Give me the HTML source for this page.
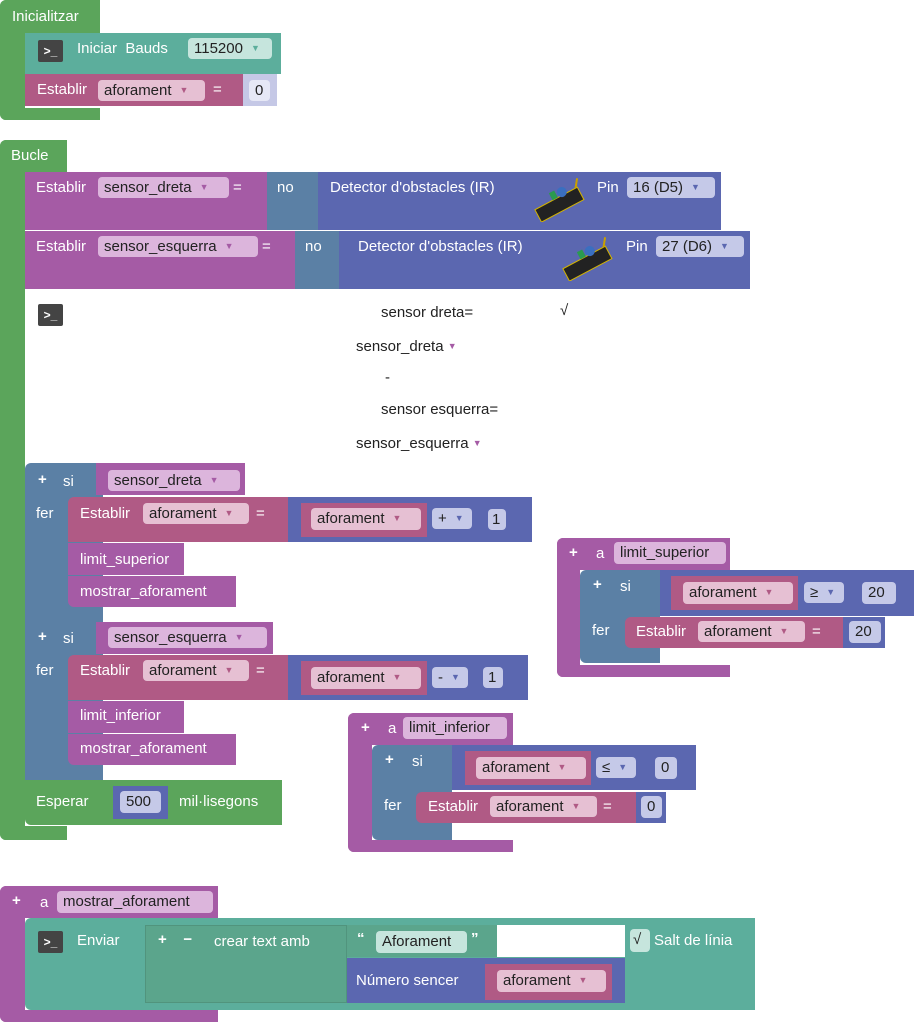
<!DOCTYPE html>
<html><head><meta charset="utf-8">
<style>
body{margin:0;width:914px;height:1024px;background:#fff;position:relative;overflow:hidden;font-family:"Liberation Sans",sans-serif;font-size:15px}
.b{position:absolute}
.t{position:absolute;color:#fff;line-height:18px;white-space:nowrap}
.k{position:absolute;color:#222;line-height:18px;white-space:nowrap}
.f{position:absolute;border-radius:4px;color:#222;line-height:21px;padding-left:6px;box-sizing:border-box;white-space:nowrap}
.f i{font-style:normal;font-size:9px;margin-left:8px;vertical-align:2px}
.G{background:#5ba55b}.T{background:#5cae9c}.P{background:#a55ba5}.R{background:#b05a85}.D{background:#5b67b0}.L{background:#5b80a5}.C{background:#5ba58c}
.fp{background:#dcb5dc}.fp i{color:#a55ba5}
.fr{background:#e6c0d3}.fr i{color:#b05a85}
.ft{background:#c6e5dd}.ft i{color:#5cae9c}
.fd{background:#c5c9e8}.fd i{color:#5b67b0}
.ico{position:absolute;width:25px;height:22px;background:#444;color:#fff;font-size:12px;line-height:22px;text-align:center;border-radius:2px;font-weight:bold}
.sh{box-shadow:inset 0 -1px 0 rgba(0,0,0,.15)}
</style></head><body>

<!-- Inicialitzar -->
<div class="b G" style="left:0;top:0;width:100px;height:38px;border-radius:6px 0 0 0"></div>
<div class="b G" style="left:0;top:0;width:25px;height:120px;border-radius:6px 0 0 6px"></div>
<div class="b G" style="left:0;top:108px;width:100px;height:12px;border-radius:0 0 0 6px"></div>
<div class="t" style="left:12px;top:8px">Inicialitzar</div>
<div class="b T" style="left:25px;top:33px;width:256px;height:41px"></div>
<div class="ico" style="left:38px;top:40px">&gt;_</div>
<div class="t" style="left:77px;top:40px">Iniciar&nbsp; Bauds</div>
<div class="f ft" style="left:188px;top:38px;width:84px;height:21px">115200<i>▼</i></div>
<div class="b R" style="left:25px;top:74px;width:218px;height:32px"></div>
<div class="t" style="left:37px;top:81px">Establir</div>
<div class="f fr" style="left:98px;top:80px;width:107px;height:21px">aforament<i>▼</i></div>
<div class="t" style="left:213px;top:81px">=</div>
<div class="b" style="left:243px;top:74px;width:34px;height:32px;background:#c5c8e6"></div>
<div class="f" style="left:249px;top:80px;width:21px;height:21px;background:#e6e8f6">0</div>

<!-- Bucle -->
<div class="b G" style="left:0;top:140px;width:67px;height:32px;border-radius:6px 0 0 0"></div>
<div class="b G" style="left:0;top:140px;width:25px;height:700px;border-radius:6px 0 0 6px"></div>
<div class="b G" style="left:0;top:826px;width:67px;height:14px;border-radius:0 0 0 6px"></div>
<div class="t" style="left:11px;top:147px">Bucle</div>

<div class="b P" style="left:25px;top:172px;width:242px;height:58px"></div>
<div class="b L" style="left:267px;top:172px;width:51px;height:58px"></div>
<div class="b D" style="left:318px;top:172px;width:403px;height:58px"></div>
<div class="t" style="left:36px;top:179px">Establir</div>
<div class="f fp" style="left:98px;top:177px;width:131px;height:21px">sensor_dreta<i>▼</i></div>
<div class="t" style="left:233px;top:179px">=</div>
<div class="t" style="left:277px;top:179px">no</div>
<div class="t" style="left:330px;top:179px">Detector d'obstacles (IR)</div>
<svg class="b" style="left:528px;top:178px" width="60" height="44"><g transform="rotate(-28 30 24)"><rect x="6" y="20" width="48" height="14" fill="#222"/><rect x="6" y="20" width="48" height="14" fill="none" stroke="#d4b400" stroke-width="1"/><circle cx="38" cy="17" r="5" fill="#3a6fc0"/><rect x="26" y="12" width="6" height="8" fill="#2a9a50"/><line x1="52" y1="20" x2="58" y2="12" stroke="#c9a000" stroke-width="2"/></g></svg>
<div class="t" style="left:597px;top:179px">Pin</div>
<div class="f fd" style="left:627px;top:177px;width:88px;height:21px">16 (D5)<i>▼</i></div>

<div class="b P" style="left:25px;top:231px;width:270px;height:58px"></div>
<div class="b L" style="left:295px;top:231px;width:44px;height:58px"></div>
<div class="b D" style="left:339px;top:231px;width:411px;height:58px"></div>
<div class="t" style="left:36px;top:238px">Establir</div>
<div class="f fp" style="left:98px;top:236px;width:160px;height:21px">sensor_esquerra<i>▼</i></div>
<div class="t" style="left:262px;top:238px">=</div>
<div class="t" style="left:305px;top:238px">no</div>
<div class="t" style="left:358px;top:238px">Detector d'obstacles (IR)</div>
<svg class="b" style="left:556px;top:237px" width="60" height="44"><g transform="rotate(-28 30 24)"><rect x="6" y="20" width="48" height="14" fill="#222"/><rect x="6" y="20" width="48" height="14" fill="none" stroke="#d4b400" stroke-width="1"/><circle cx="38" cy="17" r="5" fill="#3a6fc0"/><rect x="26" y="12" width="6" height="8" fill="#2a9a50"/><line x1="52" y1="20" x2="58" y2="12" stroke="#c9a000" stroke-width="2"/></g></svg>
<div class="t" style="left:626px;top:238px">Pin</div>
<div class="f fd" style="left:656px;top:236px;width:88px;height:21px">27 (D6)<i>▼</i></div>

<div class="ico" style="left:38px;top:304px">&gt;_</div>
<div class="k" style="left:381px;top:304px">sensor dreta=</div>
<div class="k" style="left:560px;top:302px">√</div>
<div class="k" style="left:356px;top:337px">sensor_dreta <span style="color:#a55ba5;font-size:9px;vertical-align:2px">▼</span></div>
<div class="k" style="left:385px;top:369px">-</div>
<div class="k" style="left:381px;top:401px">sensor esquerra=</div>
<div class="k" style="left:356px;top:434px">sensor_esquerra <span style="color:#a55ba5;font-size:9px;vertical-align:2px">▼</span></div>

<!-- si 1 -->
<div class="b L" style="left:25px;top:463px;width:78px;height:159px;border-radius:6px 0 0 0"></div>
<div class="b P" style="left:96px;top:463px;width:149px;height:32px"></div>
<div class="t" style="left:38px;top:471px;font-weight:bold">+</div>
<div class="t" style="left:63px;top:473px">si</div>
<div class="f fp" style="left:108px;top:470px;width:132px;height:21px">sensor_dreta<i>▼</i></div>
<div class="t" style="left:36px;top:505px">fer</div>
<div class="b R" style="left:68px;top:497px;width:220px;height:45px;border-radius:6px 0 0 0"></div>
<div class="b D" style="left:288px;top:497px;width:244px;height:45px"></div>
<div class="t" style="left:80px;top:505px">Establir</div>
<div class="f fr" style="left:143px;top:503px;width:106px;height:21px">aforament<i>▼</i></div>
<div class="t" style="left:256px;top:505px">=</div>
<div class="b R" style="left:301px;top:503px;width:126px;height:34px"></div>
<div class="f fr" style="left:311px;top:508px;width:110px;height:22px">aforament<i>▼</i></div>
<div class="f fd" style="left:432px;top:508px;width:40px;height:21px">+<i>▼</i></div>
<div class="f fd" style="left:488px;top:509px;width:18px;height:21px;padding-left:4px">1</div>
<div class="b P" style="left:68px;top:543px;width:116px;height:32px"></div>
<div class="t" style="left:80px;top:551px">limit_superior</div>
<div class="b P" style="left:68px;top:576px;width:168px;height:31px;border-radius:0 0 0 6px"></div>
<div class="t" style="left:80px;top:583px">mostrar_aforament</div>

<!-- si 2 -->
<div class="b L" style="left:25px;top:622px;width:78px;height:158px"></div>
<div class="b P" style="left:96px;top:622px;width:177px;height:32px"></div>
<div class="t" style="left:38px;top:628px;font-weight:bold">+</div>
<div class="t" style="left:63px;top:630px">si</div>
<div class="f fp" style="left:108px;top:627px;width:159px;height:21px">sensor_esquerra<i>▼</i></div>
<div class="t" style="left:36px;top:662px">fer</div>
<div class="b R" style="left:68px;top:655px;width:220px;height:45px;border-radius:6px 0 0 0"></div>
<div class="b D" style="left:288px;top:655px;width:240px;height:45px"></div>
<div class="t" style="left:80px;top:662px">Establir</div>
<div class="f fr" style="left:143px;top:660px;width:106px;height:21px">aforament<i>▼</i></div>
<div class="t" style="left:256px;top:662px">=</div>
<div class="b R" style="left:301px;top:661px;width:126px;height:34px"></div>
<div class="f fr" style="left:311px;top:667px;width:110px;height:22px">aforament<i>▼</i></div>
<div class="f fd" style="left:432px;top:667px;width:36px;height:21px">-<i>▼</i></div>
<div class="f fd" style="left:483px;top:667px;width:20px;height:21px;padding-left:5px">1</div>
<div class="b P" style="left:68px;top:701px;width:116px;height:32px"></div>
<div class="t" style="left:80px;top:707px">limit_inferior</div>
<div class="b P" style="left:68px;top:734px;width:168px;height:31px;border-radius:0 0 0 6px"></div>
<div class="t" style="left:80px;top:740px">mostrar_aforament</div>

<!-- Esperar -->
<div class="b G" style="left:25px;top:780px;width:257px;height:45px;border-radius:0 0 0 6px"></div>
<div class="t" style="left:36px;top:793px">Esperar</div>
<div class="b D" style="left:113px;top:786px;width:55px;height:33px"></div>
<div class="f fd" style="left:120px;top:791px;width:41px;height:22px">500</div>
<div class="t" style="left:179px;top:793px">mil·lisegons</div>

<!-- limit_superior proc -->
<div class="b P" style="left:557px;top:538px;width:173px;height:32px;border-radius:6px 0 0 0"></div>
<div class="b P" style="left:557px;top:538px;width:23px;height:139px;border-radius:6px 0 0 6px"></div>
<div class="b P" style="left:557px;top:665px;width:173px;height:12px;border-radius:0 0 0 6px"></div>
<div class="t" style="left:569px;top:544px;font-weight:bold">+</div>
<div class="t" style="left:596px;top:545px">a</div>
<div class="f fp" style="left:614px;top:542px;width:112px;height:22px">limit_superior</div>
<div class="b L" style="left:580px;top:570px;width:80px;height:93px;border-radius:6px 0 0 6px"></div>
<div class="b D" style="left:660px;top:570px;width:254px;height:46px"></div>
<div class="t" style="left:593px;top:576px;font-weight:bold">+</div>
<div class="t" style="left:620px;top:578px">si</div>
<div class="b R" style="left:671px;top:576px;width:127px;height:34px"></div>
<div class="f fr" style="left:683px;top:582px;width:110px;height:22px">aforament<i>▼</i></div>
<div class="f fd" style="left:804px;top:582px;width:40px;height:21px">≥<i>▼</i></div>
<div class="f fd" style="left:862px;top:582px;width:34px;height:22px">20</div>
<div class="t" style="left:592px;top:622px">fer</div>
<div class="b R" style="left:625px;top:617px;width:218px;height:31px;border-radius:6px 0 0 6px"></div>
<div class="b D" style="left:843px;top:617px;width:42px;height:31px"></div>
<div class="t" style="left:636px;top:623px">Establir</div>
<div class="f fr" style="left:698px;top:621px;width:107px;height:21px">aforament<i>▼</i></div>
<div class="t" style="left:812px;top:623px">=</div>
<div class="f fd" style="left:849px;top:621px;width:32px;height:22px">20</div>

<!-- limit_inferior proc -->
<div class="b P" style="left:348px;top:713px;width:165px;height:32px;border-radius:6px 0 0 0"></div>
<div class="b P" style="left:348px;top:713px;width:24px;height:139px;border-radius:6px 0 0 6px"></div>
<div class="b P" style="left:348px;top:840px;width:165px;height:12px;border-radius:0 0 0 6px"></div>
<div class="t" style="left:361px;top:719px;font-weight:bold">+</div>
<div class="t" style="left:388px;top:720px">a</div>
<div class="f fp" style="left:403px;top:717px;width:104px;height:22px">limit_inferior</div>
<div class="b L" style="left:372px;top:745px;width:80px;height:95px;border-radius:6px 0 0 6px"></div>
<div class="b D" style="left:452px;top:745px;width:244px;height:45px"></div>
<div class="t" style="left:385px;top:751px;font-weight:bold">+</div>
<div class="t" style="left:412px;top:753px">si</div>
<div class="b R" style="left:465px;top:751px;width:126px;height:34px"></div>
<div class="f fr" style="left:476px;top:757px;width:110px;height:22px">aforament<i>▼</i></div>
<div class="f fd" style="left:596px;top:757px;width:40px;height:21px">≤<i>▼</i></div>
<div class="f fd" style="left:655px;top:757px;width:22px;height:22px">0</div>
<div class="t" style="left:384px;top:797px">fer</div>
<div class="b R" style="left:416px;top:792px;width:220px;height:31px;border-radius:6px 0 0 6px"></div>
<div class="b D" style="left:636px;top:792px;width:30px;height:31px"></div>
<div class="t" style="left:428px;top:798px">Establir</div>
<div class="f fr" style="left:490px;top:796px;width:107px;height:21px">aforament<i>▼</i></div>
<div class="t" style="left:603px;top:798px">=</div>
<div class="f fd" style="left:641px;top:796px;width:21px;height:22px">0</div>

<!-- mostrar_aforament proc -->
<div class="b P" style="left:0;top:886px;width:218px;height:32px;border-radius:6px 0 0 0"></div>
<div class="b P" style="left:0;top:886px;width:25px;height:136px;border-radius:6px 0 0 6px"></div>
<div class="b P" style="left:0;top:1010px;width:218px;height:12px;border-radius:0 0 0 6px"></div>
<div class="t" style="left:12px;top:892px;font-weight:bold">+</div>
<div class="t" style="left:40px;top:894px">a</div>
<div class="f fp" style="left:57px;top:891px;width:156px;height:22px">mostrar_aforament</div>
<div class="b T" style="left:25px;top:918px;width:730px;height:92px;border-radius:6px 0 0 6px"></div>
<div class="ico" style="left:38px;top:931px">&gt;_</div>
<div class="t" style="left:77px;top:932px">Enviar</div>
<div class="b C" style="left:145px;top:925px;width:202px;height:78px;box-shadow:inset 0 0 0 1px rgba(0,0,0,.1)"></div>
<div class="t" style="left:158px;top:931px;font-weight:bold">+&nbsp;&nbsp;&nbsp; −</div>
<div class="t" style="left:214px;top:933px">crear text amb</div>
<div class="b C" style="left:347px;top:925px;width:150px;height:32px"></div>
<div class="b" style="left:497px;top:925px;width:128px;height:32px;background:#fff"></div>
<div class="t" style="left:357px;top:930px;font-weight:bold">“</div>
<div class="f ft" style="left:376px;top:931px;width:91px;height:22px">Aforament</div>
<div class="t" style="left:471px;top:930px;font-weight:bold">”</div>
<div class="b D" style="left:347px;top:958px;width:278px;height:45px"></div>
<div class="t" style="left:356px;top:972px">Número sencer</div>
<div class="b R" style="left:485px;top:964px;width:127px;height:36px"></div>
<div class="f fr" style="left:497px;top:970px;width:109px;height:22px">aforament<i>▼</i></div>
<div class="f ft" style="left:630px;top:929px;width:20px;height:23px;padding-left:3px">√</div>
<div class="t" style="left:654px;top:932px">Salt de línia</div>

</body></html>
